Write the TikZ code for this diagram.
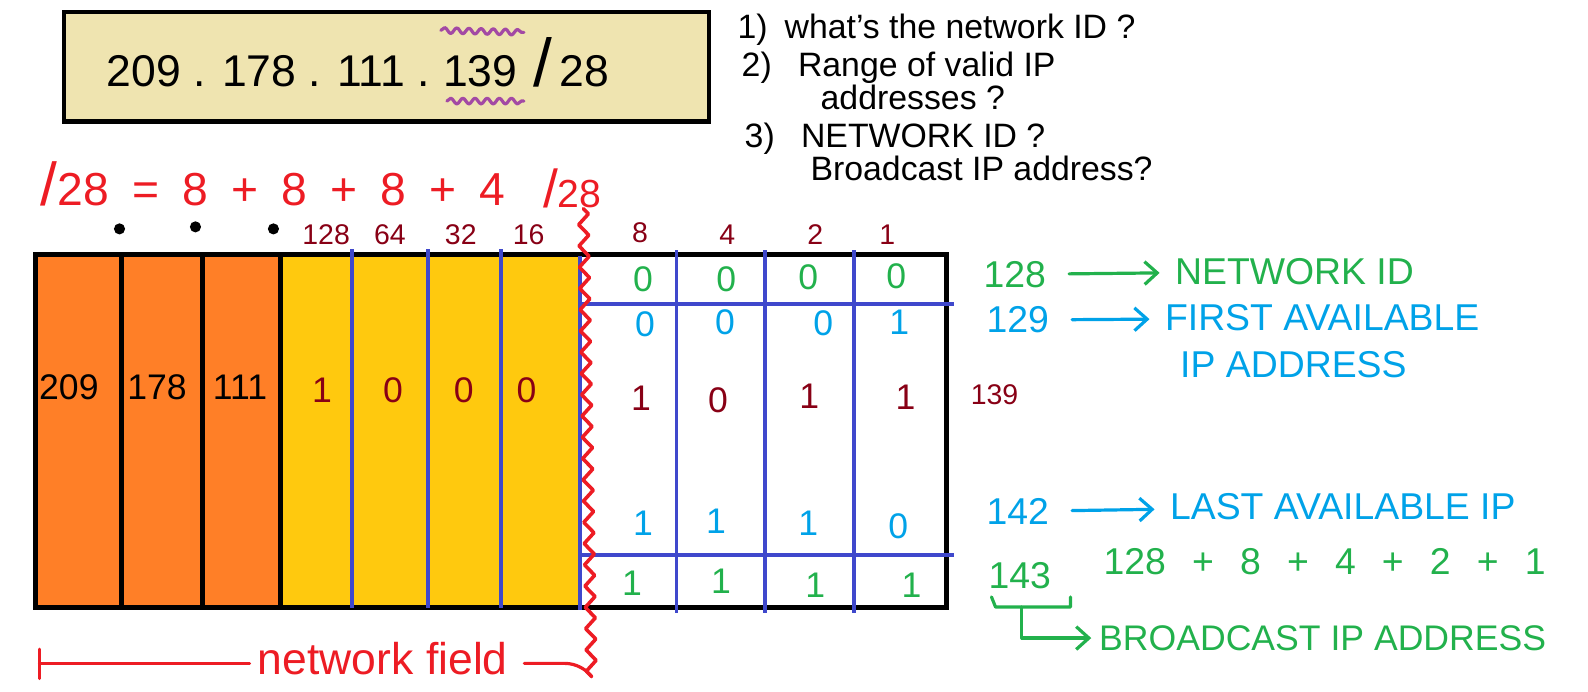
\documentclass[tikz,border=0pt]{standalone}
\usepackage{fontspec}
\setmainfont{Liberation Sans}
\usepackage{xcolor}
\usepackage{tikz}
\usetikzlibrary{arrows.meta, positioning, decorations.pathmorphing}

\definecolor{notebeige}{RGB}{239,228,176}
\definecolor{octorange}{RGB}{255,127,39}
\definecolor{octyellow}{RGB}{255,201,14}
\definecolor{gridblue}{RGB}{63,72,204}
\definecolor{penred}{RGB}{237,28,36}
\definecolor{pendark}{RGB}{136,0,21}
\definecolor{pengreen}{RGB}{34,177,76}
\definecolor{penblue}{RGB}{0,162,232}
\definecolor{penpurple}{RGB}{163,73,164}

\newcommand{\gap}{\hspace{0.7em}}

\begin{document}
\begin{tikzpicture}[
    x=0.02cm, y=-0.02cm,
    ink/.style={line width=1.8pt, line cap=round, line join=round},
    arrow/.style={ink, -{Straight Barb[length=2.5mm, width=4.5mm]}, shorten <=0.45cm, shorten >=0.3cm},
    ipbox/.style={rectangle, draw, line width=2.3pt, fill=notebeige, minimum width=12.74cm, minimum height=2.16cm},
    iptext/.style={inner sep=0pt, font=\fontsize{25}{30}\selectfont},
    question/.style={inner sep=0pt, anchor=base west, font=\fontsize{19}{22}\selectfont},
    redsum/.style={inner sep=0pt, text=penred, font=\fontsize{26}{30}\selectfont},
    weight/.style={inner sep=0pt, text=pendark, font=\fontsize{16}{19}\selectfont},
    octdot/.style={circle, fill=black, inner sep=0pt, minimum size=0.22cm},
    celltext/.style={inner sep=0pt, font=\fontsize{20}{24}\selectfont},
    rightnote/.style={inner sep=0pt, anchor=west, font=\fontsize{21}{25}\selectfont},
    gridline/.style={line width=2.2pt, draw=gridblue},
    cutline/.style={ink, line width=2pt, draw=penred, decorate, decoration={zigzag, amplitude=2.8pt, segment length=4.2mm}},
    squiggle/.style={ink, draw=penpurple, decorate, decoration={snake, amplitude=1.6pt, segment length=2.4mm}},
]
    \useasboundingbox (0,0) rectangle (1568,683);

    % Address box
    \node[ipbox] (ipbox) at (381.5,66) {};
    \node[iptext, anchor=base west] (ipnet) at (105,85) {209 . 178 . 111 .};
    \node[iptext, anchor=base west] (iphost) at ([xshift=0.25cm]ipnet.base east) {139};
    \node[iptext, anchor=base west] (ipmask) at ([xshift=0.3cm]iphost.base east) {{\fontsize{38}{38}\selectfont/}\,28};
    \draw[squiggle] ([shift={(-2,-24)}]iphost.north west) -- ([shift={(6,-22)}]iphost.north east);
    \draw[squiggle] ([shift={(4,14)}]iphost.south west) -- ([shift={(6,14)}]iphost.south east);

    % Questions
    \node[question] (q1) at (728,38) {1)\enspace what's the network ID ?};
    \node[question] (q2) at (732,76) {2)\enspace\ Range of valid IP};
    \node[question] (q3) at (810,108) {addresses ?};
    \node[question] (q4) at (735,146) {3)\enspace\ NETWORK ID ?};
    \node[question] (q5) at (800,178) {Broadcast IP address?};

    % Mask split
    \node[redsum, anchor=west] (masksum) at (40,182) {{\fontsize{34}{34}\selectfont/}28\enspace=\enspace 8\enspace+\enspace 8\enspace+\enspace 8\enspace+\enspace 4};
    \node[redsum, font=\fontsize{22}{26}\selectfont] (maskcut) at (565,186) {{\fontsize{30}{30}\selectfont/}28};

    % Octet dots and bit weights
    \node[octdot] (dot1) at (118,226) {};
    \node[octdot] (dot2) at (193,224) {};
    \node[octdot] (dot3) at (270,226) {};
    \node[weight] (w128) at (322,232) {128};
    \node[weight] (w64) at (385,232) {64};
    \node[weight] (w32) at (455,232) {32};
    \node[weight] (w16) at (522,232) {16};
    \node[weight] (w8) at (632,230) {8};
    \node[weight] (w4) at (718,232) {4};
    \node[weight] (w2) at (805,232) {2};
    \node[weight] (w1) at (876,232) {1};

    % Address block
    \fill[octorange] (35,251) rectangle (277,600);
    \fill[octyellow] (277,251) rectangle (575,600);
    \draw[line width=2.5pt] (120,251) -- (120,600) (200,251) -- (200,600) (277,251) -- (277,600);
    \draw[line width=2.8pt] (35,251) rectangle (935,600);
    \foreach \x in {348,423,495} \draw[gridline] (\x,246) -- (\x,600);
    \foreach \x in {668,755,843} \draw[gridline] (\x,247) -- (\x,605);
    \draw[gridline] (573,253) -- (573,602);
    \draw[gridline] (573,300) -- (942,300);
    \draw[gridline] (573,548) -- (942,548);

    % Octets
    \node[celltext] (oct1) at (68,382) {209};
    \node[celltext] (oct2) at (155,382) {178};
    \node[celltext] (oct3) at (237,382) {111};
    \node[celltext, text=pendark] (hb128) at (318,385) {1};
    \node[celltext, text=pendark] (hb64) at (388,385) {0};
    \node[celltext, text=pendark] (hb32) at (458,385) {0};
    \node[celltext, text=pendark] (hb16) at (520,385) {0};

    % Row 1: network ID
    \node[celltext, text=pengreen] (netid8) at (635,276) {0};
    \node[celltext, text=pengreen] (netid4) at (717,276) {0};
    \node[celltext, text=pengreen] (netid2) at (798,274) {0};
    \node[celltext, text=pengreen] (netid1) at (885,273) {0};
    % Row 2: first host
    \node[celltext, text=penblue] (first8) at (637,320) {0};
    \node[celltext, text=penblue] (first4) at (716,318) {0};
    \node[celltext, text=penblue] (first2) at (813,319) {0};
    \node[celltext, text=penblue] (first1) at (888,318) {1};
    % Row 3: given host
    \node[celltext, text=pendark] (host8) at (633,393) {1};
    \node[celltext, text=pendark] (host4) at (709,395) {0};
    \node[celltext, text=pendark] (host2) at (799,391) {1};
    \node[celltext, text=pendark] (host1) at (894,392) {1};
    % Row 4: last host
    \node[celltext, text=penblue] (last8) at (635,517) {1};
    \node[celltext, text=penblue] (last4) at (707,515) {1};
    \node[celltext, text=penblue] (last2) at (798,517) {1};
    \node[celltext, text=penblue] (last1) at (887,520) {0};
    % Row 5: broadcast
    \node[celltext, text=pengreen] (bcast8) at (624,576) {1};
    \node[celltext, text=pengreen] (bcast4) at (712,574) {1};
    \node[celltext, text=pengreen] (bcast2) at (805,578) {1};
    \node[celltext, text=pengreen] (bcast1) at (900,578) {1};

    % Network / host cut
    \coordinate (cuttop) at (576,206);
    \coordinate (cutend) at (584,668);
    \draw[cutline] (cuttop) -- (cutend);

    % Network field bracket
    \node[inner sep=0pt, text=penred, font=\fontsize{25}{30}\selectfont] (netfield) at (378,650) {network field};
    \coordinate (nftop) at (39,641);
    \coordinate (nfbot) at (39,670);
    \draw[ink, penred] (nftop) -- (nfbot);
    \draw[ink, penred] (nftop |- netfield.west) ++(0,5) -- ([shift={(-8,5)}]netfield.west);
    \draw[ink, penred] ([shift={(16,5)}]netfield.east) -- ++(40,0) .. controls +(12,0) and +(-4,-6) .. (cutend);

    % Right notes
    \node[rightnote, anchor=center, text=pengreen] (n128) at (1002,271) {128};
    \node[rightnote, text=pengreen] (netid) at (1160,268) {NETWORK ID};
    \node[rightnote, anchor=center, text=penblue] (n129) at (1005,316) {129};
    \node[rightnote, text=penblue] (firstip) at (1150,314) {FIRST AVAILABLE};
    \node[rightnote, text=penblue] (firstip2) at (1165,360) {IP ADDRESS};
    \node[weight] (n139) at (982,390) {139};
    \node[rightnote, anchor=center, text=penblue] (n142) at (1005,505) {142};
    \node[rightnote, text=penblue] (lastip) at (1155,500) {LAST AVAILABLE IP};
    \node[rightnote, anchor=center, text=pengreen] (n143) at (1007,568) {143};
    \node[rightnote, anchor=center, text=pengreen] (bsum) at (1308,555) {128\gap+\gap 8\gap+\gap 4\gap+\gap 2\gap+\gap 1};
    \node[rightnote, text=pengreen, font=\fontsize{20}{24}\selectfont] (bcast) at (1085,630) {BROADCAST IP ADDRESS};

    % Arrows
    \draw[arrow, pengreen] (n128) -- (netid);
    \draw[arrow, penblue] (n129) -- (firstip);
    \draw[arrow, penblue] (n142) -- (lastip);
    \draw[ink, pengreen] ([shift={(-28,8)}]n143.south) -- ++(4,10) -- ++(74,0) -- ++(0,-10);
    \draw[arrow, pengreen, shorten <=0pt, shorten >=0.15cm] ([shift={(2,18)}]n143.south) |- (bcast.west);
\end{tikzpicture}
\end{document}
